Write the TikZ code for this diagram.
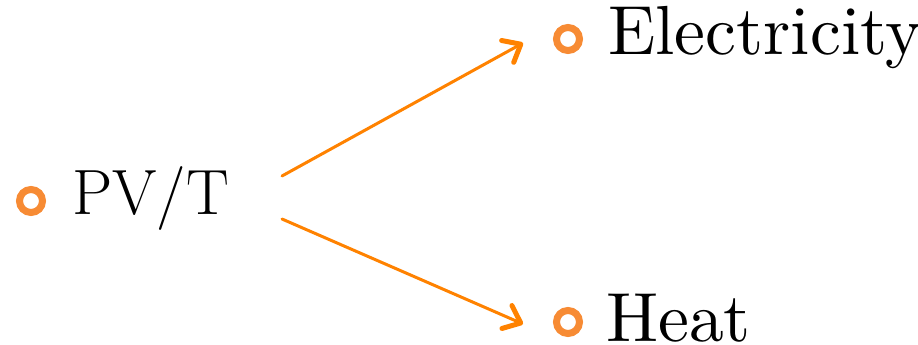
\documentclass[tikz,border=0pt]{standalone}
\usetikzlibrary{arrows.meta}
\definecolor{bul}{RGB}{247,139,52}
\definecolor{arr}{RGB}{255,130,0}
\font\bigf="[lmroman10-regular.otf]" at 69.5pt
\begin{document}
\begin{tikzpicture}[x=1pt,y=1pt,
  bullet/.style={circle,draw=bul,line width=7pt,minimum size=23pt,inner sep=0pt},
  lbl/.style={anchor=base west,inner sep=0pt,font=\bigf},
  flow/.style={draw=arr,line width=3pt,line cap=round,-{Straight Barb[length=15pt,width=25pt,line width=5pt,round]}}]
\useasboundingbox (0,0) rectangle (918,345);
\node[bullet] (b1) at (31,144) {};
\node[lbl,font=\fontsize{64}{70}\selectfont] (pvt) at (72,130) {PV/T};
\node[bullet] (b2) at (568,306) {};
\node[lbl] (el) at (608,290) {Electricity};
\node[bullet] (b3) at (568,23) {};
\node[lbl] (ht) at (606,3) {Heat};
\coordinate (s1) at (282,169);
\coordinate (s2) at (282,126);
\coordinate (t1) at (523,302);
\coordinate (t2) at (523,21);
\draw[flow] (s1) -- (t1);
\draw[flow] (s2) -- (t2);
\end{tikzpicture}
\end{document}
